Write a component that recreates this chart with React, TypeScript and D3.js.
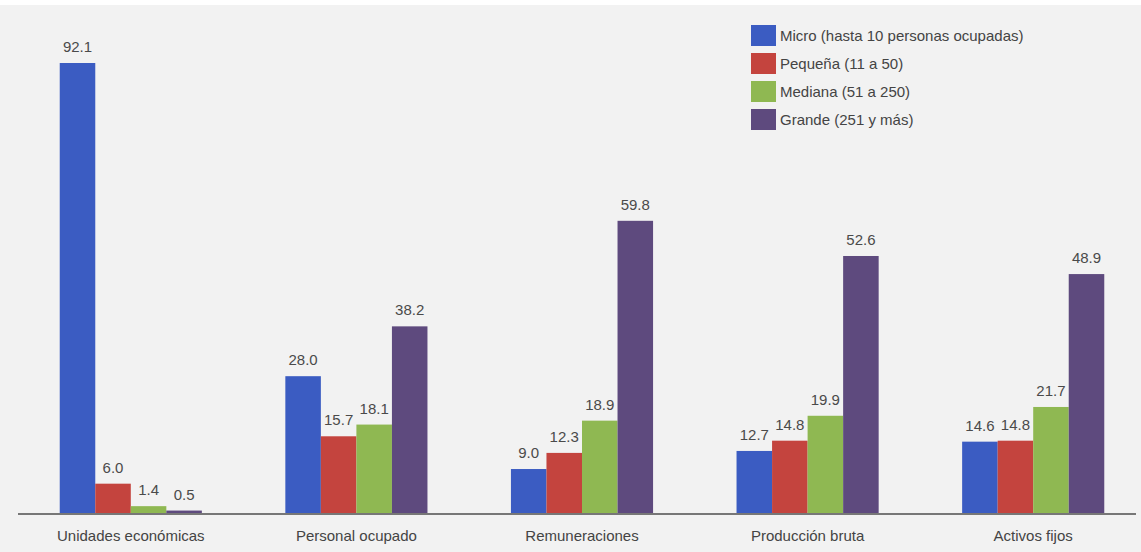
import React from "react";
import * as d3 from "d3";

const categories = [
  "Unidades económicas",
  "Personal ocupado",
  "Remuneraciones",
  "Producción bruta",
  "Activos fijos",
];
const seriesNames = [
  "Micro (hasta 10 personas ocupadas)",
  "Pequeña (11 a 50)",
  "Mediana (51 a 250)",
  "Grande (251 y más)",
];
const micro = [92.1, 28.0, 9.0, 12.7, 14.6];
const pequena = [6.0, 15.7, 12.3, 14.8, 14.8];
const mediana = [1.4, 18.1, 18.9, 19.9, 21.7];
const grande = [0.5, 38.2, 59.8, 52.6, 48.9];
const seriesValues = [micro, pequena, mediana, grande];
const colors = ["#3b5cc2", "#c4443e", "#8fb852", "#5e4a7e"];

const W = 1141;
const H = 552;
const baseline = 513;

export default function App() {
  const x0 = d3.scaleBand<string>().domain(categories).range([18, 1146]).paddingInner(0.37).paddingOuter(0.185);
  const x1 = d3.scaleBand<number>().domain(d3.range(seriesNames.length)).range([0, x0.bandwidth()]);
  const y = d3.scaleLinear().domain([0, 100]).range([baseline, baseline - 488.6]);
  const font = "Arial, 'Liberation Sans', sans-serif";

  return (
    <svg
      width={W}
      height={H}
      style={{ position: "absolute", left: 0, top: 0, display: "block" }}
      fontFamily={font}
    >
      <rect x={0} y={0} width={W} height={H} fill="#ffffff" />
      <rect x={0} y={5} width={W} height={H - 5} fill="#f2f2f2" />
      {categories.map((c, i) => (
        <g key={c} transform={`translate(${x0(c)},0)`}>
          {seriesValues.map((vals, s) => {
            const v = vals[i];
            const bx = x1(s)!;
            return (
              <g key={s}>
                <rect
                  x={bx}
                  y={y(v)}
                  width={x1.bandwidth()}
                  height={baseline - y(v)}
                  fill={colors[s]}
                />
                <text
                  x={bx + x1.bandwidth() / 2}
                  y={y(v) - 11}
                  textAnchor="middle"
                  fontSize={15}
                  fill="#4a4a4a"
                >
                  {v.toFixed(1)}
                </text>
              </g>
            );
          })}
          <text
            x={x0.bandwidth() / 2}
            y={541}
            textAnchor="middle"
            fontSize={15}
            fill="#444"
          >
            {c}
          </text>
        </g>
      ))}
      <line x1={18} x2={1136} y1={baseline + 1} y2={baseline + 1} stroke="#777" strokeWidth={2} />
      {seriesNames.map((n, s) => (
        <g key={n} transform={`translate(751,${25 + s * 28})`}>
          <rect x={0} y={0} width={25} height={21} fill={colors[s]} />
          <text x={29} y={16} fontSize={15} fill="#444">
            {n}
          </text>
        </g>
      ))}
    </svg>
  );
}
